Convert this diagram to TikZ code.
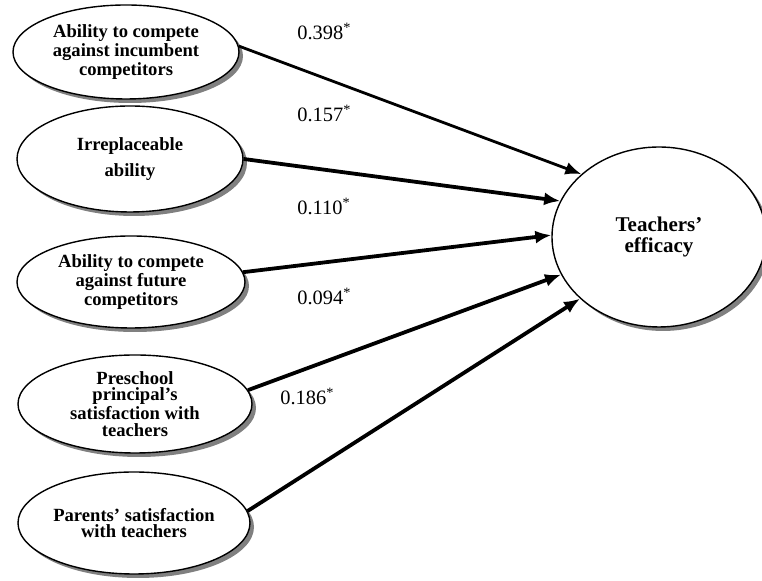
\documentclass[tikz,border=0pt]{standalone}
\usepackage{fontspec}
\setmainfont{Liberation Serif}
\usetikzlibrary{shapes.geometric,arrows.meta,shadows}

\tikzset{
  latent/.style={ellipse, draw, line width=0.7pt, fill=white, inner sep=0pt, align=center,
    font=\fontsize{9.3}{8.3}\selectfont\bfseries,
    drop shadow={shadow xshift=2pt, shadow yshift=-2pt, fill=black!50, opacity=1}},
  effect/.style={-{Latex[length=8pt,width=6.5pt]}, line width=1.9pt},
  coef/.style={anchor=base west, inner sep=0pt, font=\fontsize{10.2}{12}\selectfont}
}

\begin{document}
\begin{tikzpicture}[x=0.5pt,y=-0.5pt]
  \useasboundingbox (0,0) rectangle (762,581);
  % predictors
  \node[latent, minimum width=113pt, minimum height=47pt] (incumbent) at (126,52) {Ability to compete\\against incumbent\\competitors};
  \node[latent, minimum width=113pt, minimum height=53pt] (irreplace) at (130,159) {Irreplaceable\\[3.5pt]ability};
  \node[latent, minimum width=114pt, minimum height=46pt] (future) at (131,282) {Ability to compete\\against future\\competitors};
  \node[latent, minimum width=117pt, minimum height=49pt] (principal) at (135,404) {Preschool\\principal's\\satisfaction with\\teachers};
  \node[latent, minimum width=116pt, minimum height=51pt] (parents) at (134,523) {Parents' satisfaction\\with teachers};
  % outcome
  \node[latent, font=\fontsize{10.5}{10.5}\selectfont\bfseries, minimum width=107pt, minimum height=90pt] (efficacy) at (659,237) {Teachers'\\efficacy};

  \draw[effect, line width=1.4pt] (incumbent.3) -- (efficacy.141);
  \draw[effect] (irreplace.east) -- (efficacy.160);
  \draw[effect] (future.5) -- (efficacy.179);
  \draw[effect] (principal.7) -- (efficacy.201);
  \draw[effect] (parents.6) -- (efficacy.218);

  % path coefficients
  \node[coef] (c1) at (297,40) {0.398\textsuperscript{*}};
  \node[coef] (c2) at (297,122) {0.157\textsuperscript{*}};
  \node[coef] (c3) at (297,215) {0.110\textsuperscript{*}};
  \node[coef] (c4) at (297,305) {0.094\textsuperscript{*}};
  \node[coef] (c5) at (280,405) {0.186\textsuperscript{*}};
\end{tikzpicture}
\end{document}
